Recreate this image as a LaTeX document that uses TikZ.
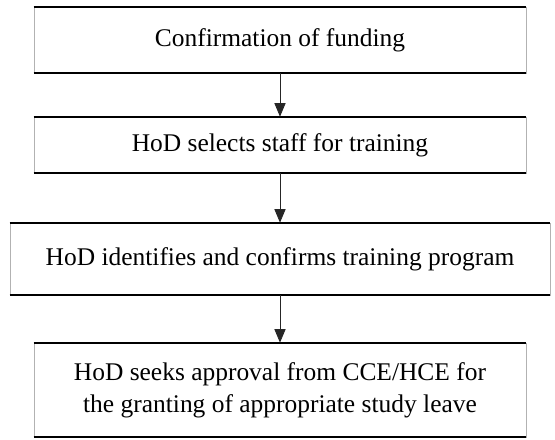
\documentclass[tikz,border=0pt]{standalone}
\usepackage{fontspec}
\setmainfont{Liberation Serif}
\usetikzlibrary{arrows.meta}

\begin{document}
\begin{tikzpicture}[x=0.025cm, y=-0.025cm,
        stepbox/.style={draw=black!30, line width=0.4pt, inner sep=0pt, align=center,
            font=\fontsize{18.1}{22.7}\selectfont},
        flow/.style={draw=black!85, line width=0.6pt, -{Triangle[length=3.4mm, width=2.8mm]}}]
        \useasboundingbox (0,0) rectangle (555,440);

        \node[stepbox, minimum width=12.3cm, minimum height=1.65cm] (fund) at (280,40) {Confirmation of funding};
        \node[stepbox, minimum width=12.3cm, minimum height=1.4cm] (staff) at (280,145) {HoD selects staff for training};
        \node[stepbox, minimum width=13.5cm, minimum height=1.8cm] (prog) at (280,259) {HoD identifies and confirms training program};
        \node[stepbox, minimum width=12.3cm, minimum height=2.35cm] (leave) at (280,390) {HoD seeks approval from CCE/HCE for\\the granting of appropriate study leave};

        % top and bottom edges are the dark ones
        \foreach \n in {fund,staff,prog,leave}
            \draw[line width=1.2pt] (\n.north west) -- (\n.north east) (\n.south west) -- (\n.south east);

        \draw[flow] (fund) -- (staff);
        \draw[flow] (staff) -- (prog);
        \draw[flow] (prog) -- (leave);
    \end{tikzpicture}
\end{document}
